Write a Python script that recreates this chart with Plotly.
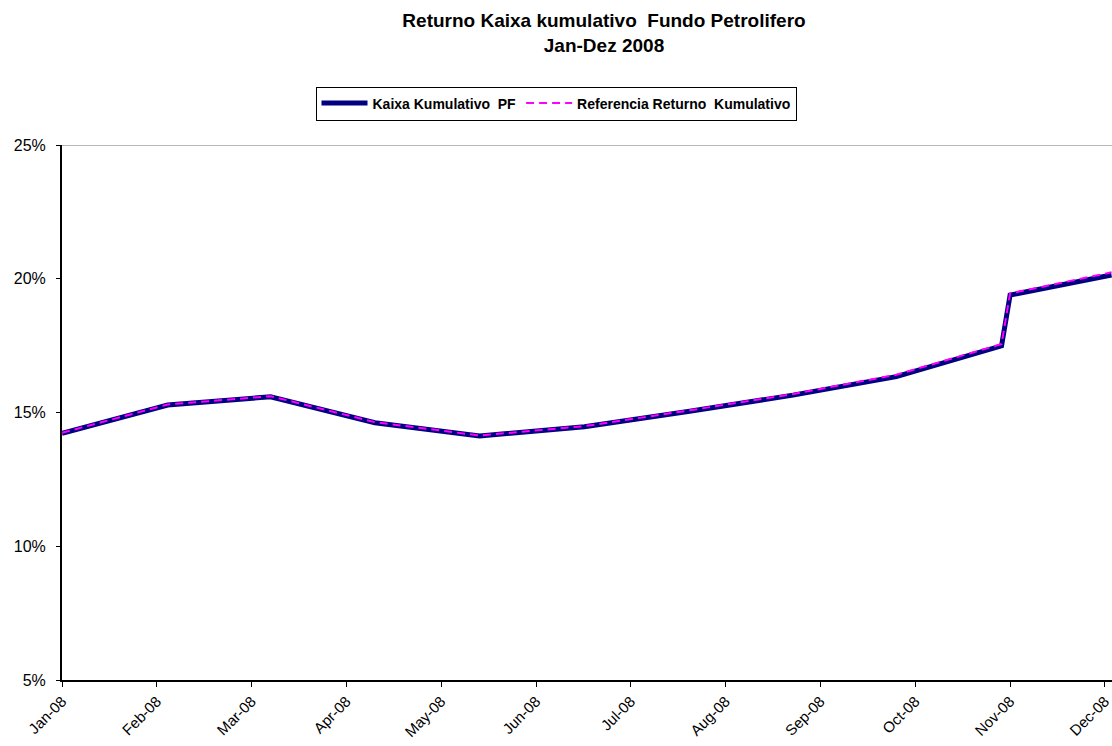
import plotly.graph_objects as go

# month index (0 = Jan-08) at which each observation is plotted
obs_month = [0.0, 1.115, 2.20, 3.30, 4.405, 5.51, 6.62, 7.71, 8.80, 9.91, 10.0, 11.07]
kaixa_pf = [14.22, 15.28, 15.59, 14.62, 14.12, 14.47, 15.05, 15.65, 16.34, 17.49, 19.39, 20.14]
referencia = [14.24, 15.30, 15.61, 14.64, 14.14, 14.49, 15.08, 15.69, 16.41, 17.56, 19.45, 20.24]

tick_labels = ["Jan-08", "Feb-08", "Mar-08", "Apr-08", "May-08", "Jun-08",
               "Jul-08", "Aug-08", "Sep-08", "Oct-08", "Nov-08", "Dec-08"]
y_ticks = [5, 10, 15, 20, 25]

FONT = "Liberation Sans, Arial, sans-serif"

fig = go.Figure()
fig.add_trace(go.Scatter(
    x=obs_month, y=kaixa_pf, mode="lines", name="Kaixa Kumulativo  PF",
    line=dict(color="#000080", width=5), cliponaxis=True))
fig.add_trace(go.Scatter(
    x=obs_month, y=referencia, mode="lines", name="Referencia Returno  Kumulativo",
    line=dict(color="#FF00FF", width=2, dash="8px,5px"), cliponaxis=True))

fig.update_layout(
    width=1112, height=746,
    margin=dict(l=62, r=0, t=145, b=66),
    paper_bgcolor="white", plot_bgcolor="white",
    font=dict(family=FONT, color="black", size=15),
    title=dict(
        text="<b>Returno Kaixa kumulativo  Fundo Petrolifero<br>Jan-Dez 2008</b>",
        x=604/1112, xref="container", xanchor="center",
        y=1 - 27/746, yref="container", yanchor="top",
        font=dict(family=FONT, size=19, color="black")),
    legend=dict(
        orientation="h", x=0.5, xref="container",
        xanchor="center", y=1 - 86.5/746, yref="container", yanchor="top",
        bordercolor="black", borderwidth=1, bgcolor="white",
        font=dict(family=FONT, size=14, color="black", weight="bold"),
        itemwidth=46, tracegroupgap=0),
    showlegend=True,
)

fig.update_xaxes(
    range=[0, 11.075], tickmode="array",
    tickvals=list(range(len(tick_labels))), ticktext=tick_labels,
    tickangle=-45, ticks="outside", ticklen=5, tickwidth=1, tickcolor="black",
    ticklabeloverflow="allow",
    showline=True, linecolor="black", linewidth=1.5, showgrid=False,
    zeroline=False, tickfont=dict(family=FONT, size=15, color="black"))

fig.update_yaxes(
    range=[5, 25], tickmode="array", tickvals=y_ticks,
    ticktext=[f"{v}%" for v in y_ticks],
    ticks="outside", ticklen=4, tickwidth=1, tickcolor="black",
    ticklabelstandoff=7,
    showline=True, linecolor="black", linewidth=2, showgrid=False,
    zeroline=False, tickfont=dict(family=FONT, size=16, color="black"))

# top border of plot area (grey line at 25%)
fig.add_shape(type="line", xref="paper", yref="y", x0=0, x1=1, y0=25, y1=25,
              line=dict(color="#a0a0a0", width=1.5), layer="below")

fig.write_html("out.html", config={"displayModeBar": False},
               post_script="document.body.style.margin='0px';")
